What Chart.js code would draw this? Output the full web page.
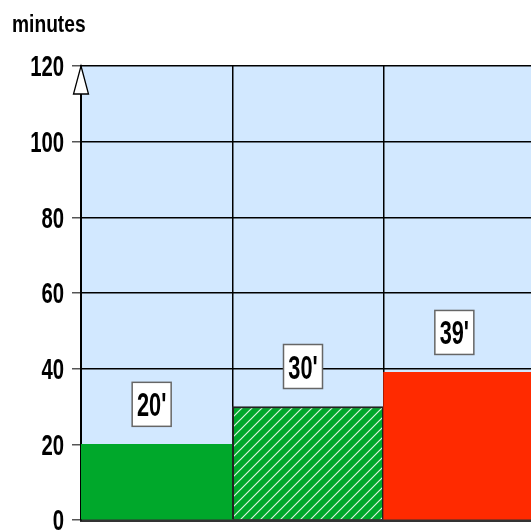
<!DOCTYPE html>
<html>
<head>
<meta charset="utf-8">
<script src="https://cdn.jsdelivr.net/npm/chart.js@4"></script>
<style>
  html, body { margin: 0; padding: 0; overflow: hidden; background: #fff; }
</style>
</head>
<body>
<canvas id="chart" width="540" height="545"></canvas>
<script>
// data
const categories = ["first", "second", "third"];
const values = [20, 30, 39];
const barLabels = ["20'", "30'", "39'"];
const yTickValues = [0, 20, 40, 60, 80, 100, 120];
const unitTitle = "minutes";

const FONT = "'Liberation Sans', Arial, sans-serif";

// diagonal hatch for the middle bar
function hatch() {
  const c = document.createElement("canvas");
  c.width = 10; c.height = 10;
  const g = c.getContext("2d");
  g.fillStyle = "#00a82b";
  g.fillRect(0, 0, 10, 10);
  g.strokeStyle = "rgba(255,255,255,0.85)";
  g.lineWidth = 1.2;
  g.beginPath();
  g.moveTo(-1, 11); g.lineTo(11, -1);
  g.moveTo(-1, 1); g.lineTo(1, -1);
  g.moveTo(9, 11); g.lineTo(11, 9);
  g.stroke();
  return g.createPattern(c, "repeat");
}

// condensed text helper (narrow fonts are not installed)
function narrowText(ctx, txt, x, y, sx) {
  ctx.save();
  ctx.translate(x, y);
  ctx.scale(sx, 1);
  ctx.fillText(txt, 0, 0);
  ctx.restore();
}

const areaBg = {
  id: "areaBg",
  beforeDraw(chart) {
    const { ctx, chartArea: a } = chart;
    ctx.save();
    ctx.fillStyle = "#d2e8ff";
    ctx.fillRect(a.left, a.top, a.right - a.left, a.bottom - a.top);
    ctx.restore();
  }
};

const extras = {
  id: "extras",
  afterDraw(chart) {
    const { ctx, chartArea: a } = chart;
    const ys = chart.scales.y;
    ctx.save();
    ctx.fillStyle = "#000";

    // axis title
    ctx.font = "bold 24px " + FONT;
    ctx.textAlign = "left";
    ctx.textBaseline = "alphabetic";
    narrowText(ctx, unitTitle, 12, 32, 0.8);

    // y tick labels, placed by the y scale
    ctx.font = "bold 29px " + FONT;
    ctx.textAlign = "right";
    ys.ticks.forEach(t => {
      const py = ys.getPixelForValue(t.value);
      narrowText(ctx, String(t.value), 64, py + 10.4, 0.7);
    });

    // arrow head on the y axis
    ctx.beginPath();
    ctx.moveTo(a.left, a.top);
    ctx.lineTo(a.left + 7.5, a.top + 28);
    ctx.lineTo(a.left - 7.5, a.top + 28);
    ctx.closePath();
    ctx.fillStyle = "#fff";
    ctx.fill();
    ctx.strokeStyle = "#000";
    ctx.lineWidth = 1.3;
    ctx.stroke();

    // value boxes
    const meta = chart.getDatasetMeta(0);
    meta.data.forEach((bar, i) => {
      const cx = bar.x - 5;
      const cy = bar.y - 40;
      const w = 39, h = 44;
      ctx.fillStyle = "#fff";
      ctx.fillRect(cx - w / 2, cy - h / 2, w, h);
      ctx.strokeStyle = "#666";
      ctx.lineWidth = 1.5;
      ctx.strokeRect(cx - w / 2, cy - h / 2, w, h);
      ctx.fillStyle = "#000";
      ctx.font = "bold 34px " + FONT;
      ctx.textAlign = "center";
      ctx.textBaseline = "alphabetic";
      narrowText(ctx, barLabels[i], cx, cy + 12, 0.64);
    });
    ctx.restore();
  }
};

new Chart(document.getElementById("chart"), {
  type: "bar",
  data: {
    labels: categories,
    datasets: [{
      data: values,
      backgroundColor: ["#00a82b", hatch(), "#ff2a00"],
      borderColor: ["#00a82b", "#222", "#ff2a00"],
      borderWidth: [0, 2, 0],
      borderSkipped: "bottom",
      categoryPercentage: 1,
      barPercentage: 1
    }]
  },
  options: {
    responsive: false,
    animation: false,
    devicePixelRatio: 1,
    layout: { padding: { left: 0, top: 66, right: 5, bottom: 25 } },
    plugins: { legend: { display: false }, tooltip: { enabled: false } },
    scales: {
      x: {
        z: 1,
        grid: { color: "#000", lineWidth: 1.5, offset: true, drawTicks: false },
        border: { display: true, color: "#333", width: 3 },
        ticks: { display: false },
        afterFit(s) { s.height = 0; }
      },
      y: {
        z: 1,
        min: 0,
        max: 120,
        afterBuildTicks(s) { s.ticks = yTickValues.map(v => ({ value: v })); },
        grid: { color: "#000", lineWidth: 1.5, tickLength: 9, tickColor: "#555" },
        border: { display: true, color: "#000", width: 2 },
        ticks: { display: false },
        afterFit(s) { s.width = 81; }
      }
    }
  },
  plugins: [areaBg, extras]
});
</script>
</body>
</html>
